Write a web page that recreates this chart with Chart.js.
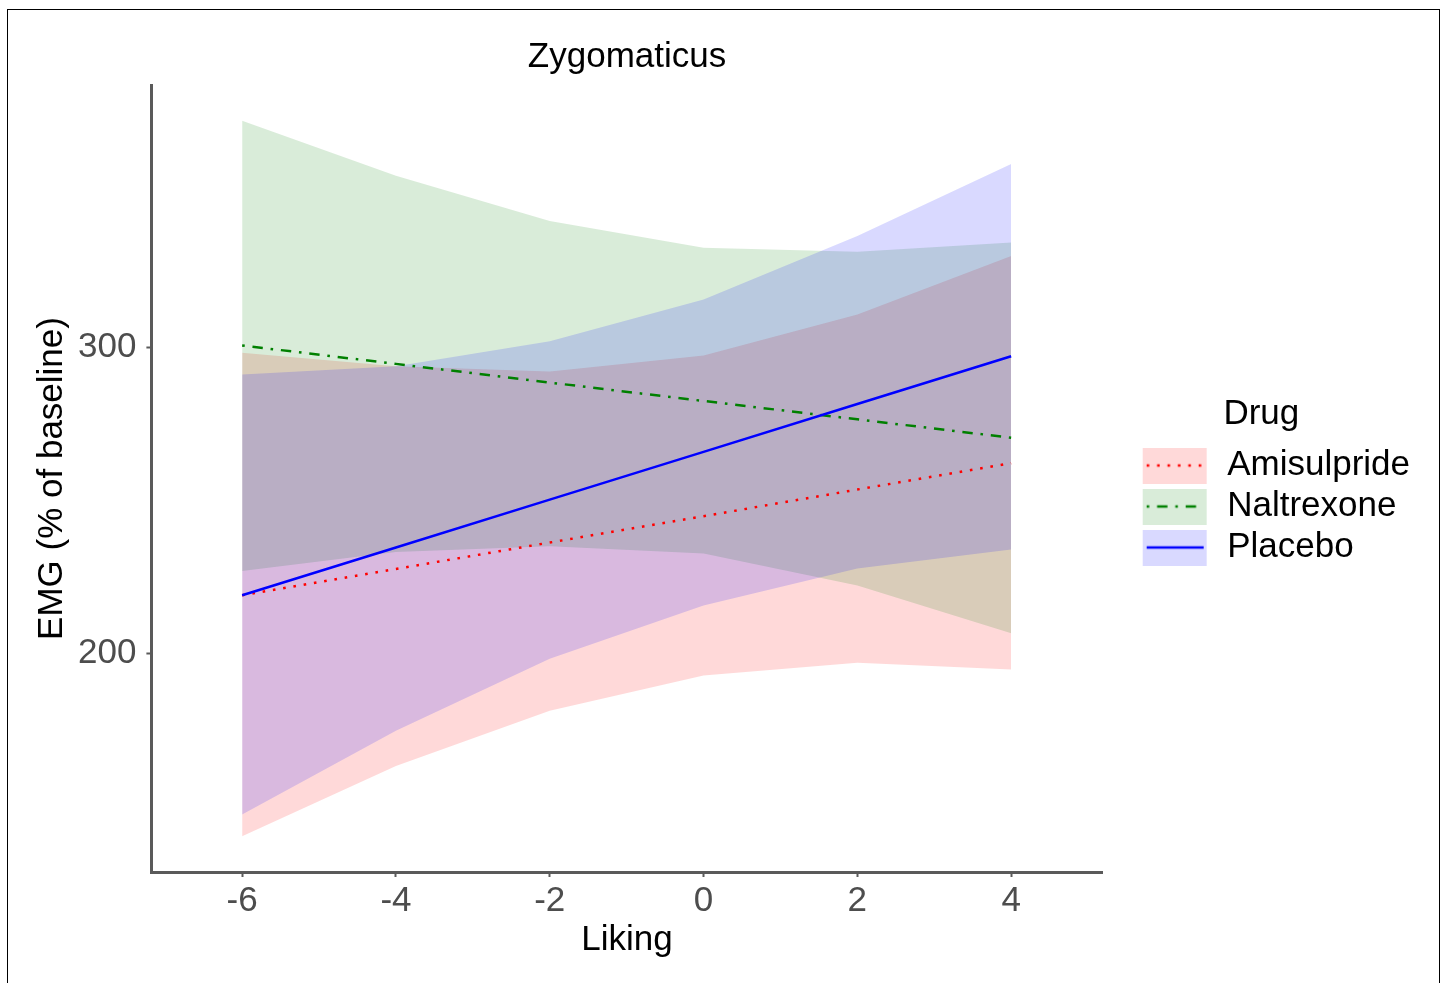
<!DOCTYPE html>
<html>
<head>
<meta charset="utf-8">
<title>Zygomaticus</title>
<script src="https://cdn.jsdelivr.net/npm/chart.js@4"></script>
<style>
  html, body { margin: 0; padding: 0; background: #fff; overflow: hidden; }
  #wrap { position: relative; width: 1444px; height: 983px; }
  #frame { position: absolute; left: 7px; top: 9px; width: 1433px; height: 1000px; border: 1px solid #000; box-sizing: border-box; pointer-events: none; }
</style>
</head>
<body>
<div id="wrap">
  <canvas id="emgChart" width="1444" height="983"></canvas>
  <div id="frame"></div>
</div>
<script>
// x values (Liking) where the model predictions were evaluated
const liking = [-6, -4, -2, 0, 2, 4];
const xTicks = [-6, -4, -2, 0, 2, 4];
const yTicks = [200, 300];

// Amisulpride: fitted line and confidence band
const amisulprideFit = [219.1, 227.7, 236.3, 244.9, 253.6, 262.2];
const amisulprideLower = [140.5, 163.4, 181.4, 192.9, 197.1, 194.9];
const amisulprideUpper = [298.2, 293.8, 292.1, 297.3, 310.7, 329.8];

// Naltrexone
const naltrexoneFit = [300.6, 294.6, 288.5, 282.5, 276.5, 270.5];
const naltrexoneLower = [227.0, 233.2, 235.1, 232.7, 222.3, 206.7];
const naltrexoneUpper = [373.9, 356.0, 341.2, 332.5, 331.2, 334.2];

// Placebo
const placeboFit = [219.1, 234.7, 250.3, 265.9, 281.5, 297.1];
const placeboLower = [147.6, 174.9, 198.4, 215.8, 227.8, 234.0];
const placeboUpper = [291.1, 293.8, 302.0, 315.6, 336.3, 359.8];

const fontFamily = "'Liberation Sans', Arial, Helvetica, sans-serif";
const axisColor = "#5a5a5a";

// styles for each drug (line colour, ribbon colour, dash pattern)
const drugs = [
  { name: "Amisulpride", fit: amisulprideFit, lower: amisulprideLower, upper: amisulprideUpper,
    color: "rgb(255, 0, 0)", fill: "rgba(255, 0, 0, 0.15)", dash: [2.6, 7.8] },
  { name: "Naltrexone", fit: naltrexoneFit, lower: naltrexoneLower, upper: naltrexoneUpper,
    color: "rgb(0, 128, 0)", fill: "rgba(0, 128, 0, 0.15)", dash: [2.6, 7.8, 10.4, 7.8] },
  { name: "Placebo", fit: placeboFit, lower: placeboLower, upper: placeboUpper,
    color: "rgb(0, 0, 255)", fill: "rgba(0, 0, 255, 0.15)", dash: [] },
];

const toPoints = (ys) => liking.map((x, i) => ({ x: x, y: ys[i] }));

// legend key: ribbon colour box with the line style across it
function makeKey(drug) {
  const c = document.createElement("canvas");
  c.width = 101;
  c.height = 36;
  const g = c.getContext("2d");
  g.fillStyle = drug.fill;
  g.fillRect(34, 0, 64, 36);
  g.strokeStyle = drug.color;
  g.lineWidth = 2.5;
  g.setLineDash(drug.dash);
  g.beginPath();
  g.moveTo(38, 18);
  g.lineTo(95, 18);
  g.stroke();
  return c;
}

// build datasets: ribbons first (upper + lower filled to upper), then the lines
const datasets = [];
drugs.forEach((d, k) => {
  datasets.push({
    label: d.name + " upper",
    data: toPoints(d.upper),
    borderColor: "rgba(0,0,0,0)",
    borderWidth: 0,
    pointRadius: 0,
    fill: false,
    order: 10 - k,
  });
  datasets.push({
    label: d.name + " lower",
    data: toPoints(d.lower),
    borderColor: "rgba(0,0,0,0)",
    backgroundColor: d.fill,
    borderWidth: 0,
    pointRadius: 0,
    fill: "-1",
    order: 10 - k,
  });
});
drugs.forEach((d, k) => {
  datasets.push({
    label: d.name,
    data: toPoints(d.fit),
    borderColor: d.color,
    borderWidth: 2.5,
    borderDash: d.dash,
    pointRadius: 0,
    fill: false,
    order: 5 - k,
  });
});

const tickFont = { family: fontFamily, size: 35 };
const titleFont = { family: fontFamily, size: 35, weight: "normal" };

new Chart(document.getElementById("emgChart").getContext("2d"), {
  type: "line",
  data: { datasets: datasets },
  options: {
    responsive: false,
    animation: false,
    devicePixelRatio: 1,
    layout: { padding: { left: 31, top: 10, right: 24, bottom: 22 } },
    plugins: {
      filler: { drawTime: "beforeDatasetsDraw" },
      tooltip: { enabled: false },
      title: {
        display: true,
        text: "Zygomaticus",
        fullSize: false,
        color: "#000",
        font: titleFont,
        padding: { top: 26, bottom: 7 },
      },
      legend: {
        position: "right",
        fullSize: false,
        title: {
          display: true,
          text: "Drug",
          color: "#000",
          font: titleFont,
          padding: { top: 11, bottom: 3 },
        },
        labels: {
          usePointStyle: true,
          pointStyleWidth: 101,
          padding: 6,
          color: "#000",
          font: tickFont,
          generateLabels: () =>
            drugs.map((d) => ({
              text: d.name,
              pointStyle: makeKey(d),
              fillStyle: d.fill,
              strokeStyle: d.color,
              lineWidth: 0,
              hidden: false,
              fontColor: "#000",
            })),
        },
      },
    },
    scales: {
      x: {
        type: "linear",
        min: -7.18,
        max: 5.19,
        afterBuildTicks: (axis) => {
          axis.ticks = xTicks.map((v) => ({ value: v }));
        },
        grid: { drawOnChartArea: false, drawTicks: true, tickLength: 5, tickColor: axisColor, tickWidth: 2 },
        border: { display: true, color: axisColor, width: 3 },
        ticks: { color: "#4d4d4d", font: tickFont, padding: 3, maxRotation: 0 },
        title: { display: true, text: "Liking", color: "#000", font: titleFont, padding: { top: -6, bottom: 0 } },
      },
      y: {
        type: "linear",
        min: 128.8,
        max: 385.6,
        afterBuildTicks: (axis) => {
          axis.ticks = yTicks.map((v) => ({ value: v }));
        },
        grid: { drawOnChartArea: false, drawTicks: true, tickLength: 5, tickColor: axisColor, tickWidth: 2 },
        border: { display: true, color: axisColor, width: 3 },
        ticks: { color: "#4d4d4d", font: tickFont, padding: 10 },
        title: { display: true, text: "EMG (% of baseline)", color: "#000", font: titleFont, padding: { top: 0, bottom: -5 } },
      },
    },
  },
});
</script>
</body>
</html>
